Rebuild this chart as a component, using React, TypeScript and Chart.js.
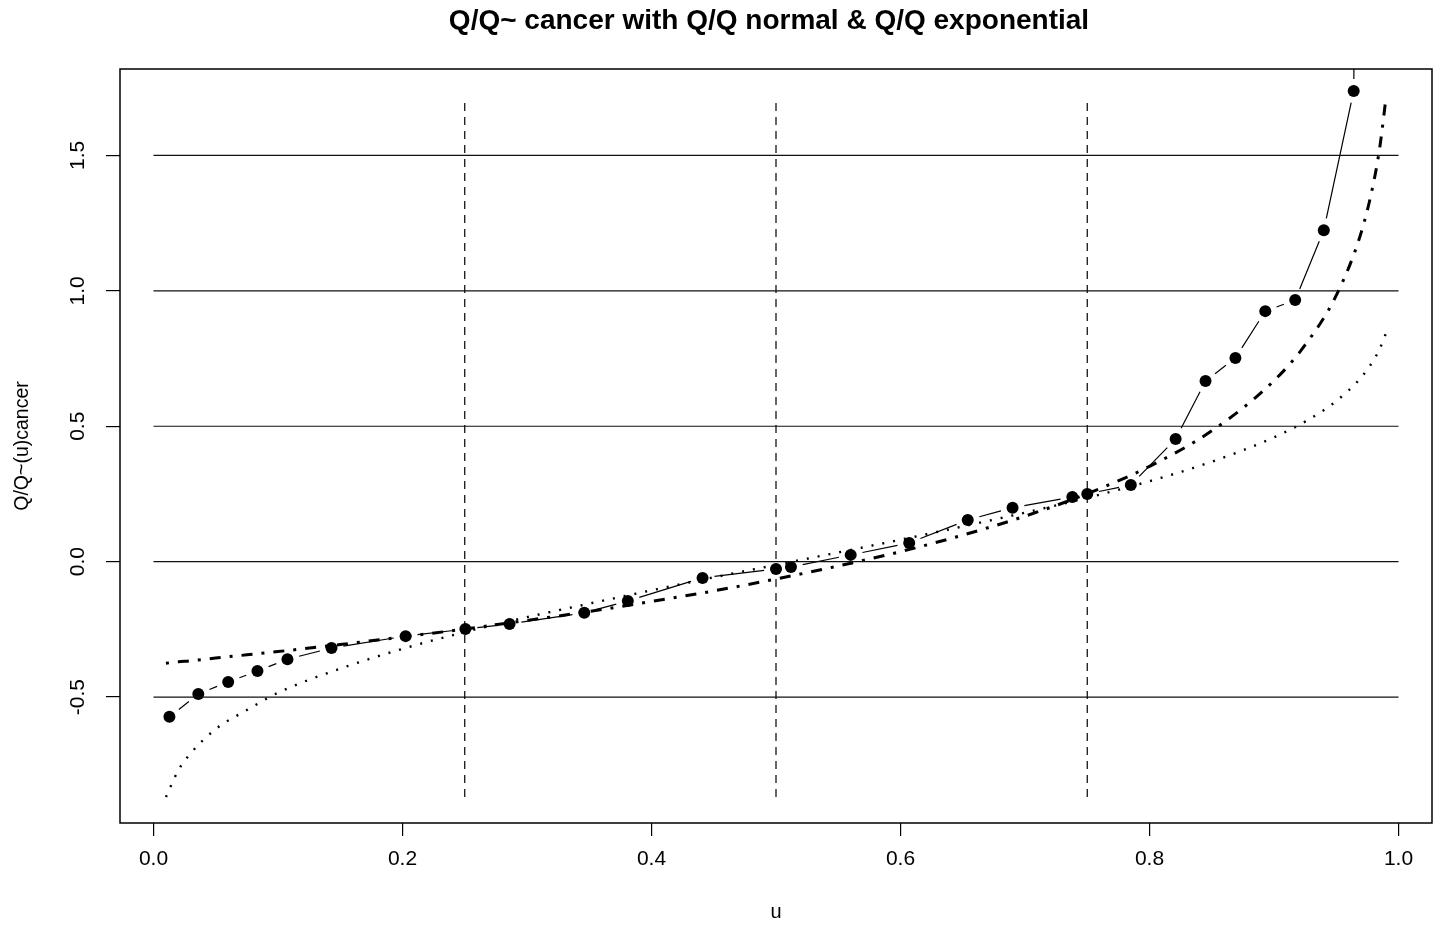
import { useEffect, useRef } from "react";
import { Chart, registerables } from "chart.js";

Chart.register(...registerables);

const TITLE = "Q/Q~ cancer with Q/Q normal & Q/Q exponential";
const X_LABEL = "u";
const Y_LABEL = "Q/Q~(u)cancer";

const X_TICKS = [0, 0.2, 0.4, 0.6, 0.8, 1.0];
const X_TICK_LABELS = ["0.0", "0.2", "0.4", "0.6", "0.8", "1.0"];
const Y_TICKS = [-0.5, 0, 0.5, 1, 1.5];
const Y_TICK_LABELS = ["-0.5", "0.0", "0.5", "1.0", "1.5"];

const X_RANGE = [-0.0269, 1.0269];
const Y_RANGE = [-0.965, 1.819];

const H_LINES = [-0.5, 0, 0.5, 1, 1.5];
const H_LINE_SPAN = [0, 1];
const V_LINES = [0.25, 0.5, 0.75];
const V_LINE_SPAN = [-0.869, 1.716];

// empirical quantiles (points)
const U_EMP = [0.0128, 0.036, 0.06, 0.0835, 0.1076, 0.143, 0.2025, 0.2505, 0.286, 0.346, 0.381, 0.441, 0.5, 0.512, 0.56, 0.607, 0.654, 0.69, 0.738, 0.75, 0.785, 0.821, 0.845, 0.869, 0.893, 0.917, 0.94, 0.964, 0.988];
const Q_CANCER = [-0.573, -0.489, -0.444, -0.404, -0.36, -0.319, -0.275, -0.249, -0.23, -0.189, -0.145, -0.06, -0.027, -0.02, 0.025, 0.069, 0.154, 0.199, 0.239, 0.25, 0.283, 0.453, 0.667, 0.752, 0.925, 0.966, 1.224, 1.738, 12];

// theoretical curves
const U_CURVE = [0.01, 0.02, 0.03, 0.05, 0.075, 0.1, 0.15, 0.2, 0.25, 0.3, 0.35, 0.4, 0.45, 0.5, 0.55, 0.6, 0.65, 0.7, 0.75, 0.8, 0.85, 0.9, 0.925, 0.95, 0.97, 0.98, 0.985, 0.99];
const Q_NORMAL = [-0.869, -0.77, -0.707, -0.618, -0.548, -0.484, -0.395, -0.322, -0.26, -0.205, -0.155, -0.106, -0.058, -0.012, 0.034, 0.081, 0.13, 0.181, 0.236, 0.297, 0.369, 0.459, 0.517, 0.593, 0.68, 0.744, 0.787, 0.844];
const Q_EXPONENTIAL = [-0.375, -0.37, -0.366, -0.356, -0.344, -0.332, -0.306, -0.278, -0.249, -0.217, -0.184, -0.147, -0.108, -0.064, -0.016, 0.037, 0.098, 0.168, 0.251, 0.352, 0.483, 0.668, 0.8, 0.983, 1.215, 1.4, 1.531, 1.715];

const FONT = "'Liberation Sans', Arial, Helvetica, sans-serif";

const POINTS_ID = "points";

const gapLinePlugin = {
  id: "gapLine",
  beforeDatasetsDraw(chart: any) {
    const idx = chart.data.datasets.findIndex((d: any) => d.id === POINTS_ID);
    if (idx < 0) return;
    const meta = chart.getDatasetMeta(idx);
    const a = chart.chartArea;
    const ctx = chart.ctx;
    const gap = 12;
    ctx.save();
    ctx.beginPath();
    ctx.rect(a.left, a.top, a.right - a.left, a.bottom - a.top);
    ctx.clip();
    ctx.strokeStyle = "#000";
    ctx.lineWidth = 1.2;
    ctx.beginPath();
    for (let i = 0; i < meta.data.length - 1; i++) {
      const p0 = meta.data[i];
      const p1 = meta.data[i + 1];
      const dx = p1.x - p0.x;
      const dy = p1.y - p0.y;
      const d = Math.hypot(dx, dy);
      if (d <= 2 * gap) continue;
      const ux = dx / d;
      const uy = dy / d;
      ctx.moveTo(p0.x + ux * gap, p0.y + uy * gap);
      ctx.lineTo(p1.x - ux * gap, p1.y - uy * gap);
    }
    ctx.stroke();
    ctx.restore();
  },
};

const textPlugin = {
  id: "rText",
  afterDraw(chart: any) {
    const ctx = chart.ctx;
    const a = chart.chartArea;
    const ys = chart.scales.y;
    ctx.save();
    // box
    ctx.strokeStyle = "#000";
    ctx.lineWidth = 1.5;
    ctx.strokeRect(a.left, a.top, a.right - a.left, a.bottom - a.top);
    ctx.fillStyle = "#000";
    // title
    ctx.font = `bold 28px ${FONT}`;
    ctx.textAlign = "center";
    ctx.textBaseline = "middle";
    ctx.fillText(TITLE, 769, 21);
    // x label
    ctx.font = `20px ${FONT}`;
    ctx.fillText(X_LABEL, (a.left + a.right) / 2, 912);
    // y tick labels
    ctx.font = `21px ${FONT}`;
    Y_TICKS.forEach((v, i) => {
      const py = ys.getPixelForValue(v);
      ctx.save();
      ctx.translate(78, py);
      ctx.rotate(-Math.PI / 2);
      ctx.fillText(Y_TICK_LABELS[i], 0, 0);
      ctx.restore();
    });
    // y label
    ctx.font = `19.5px ${FONT}`;
    ctx.save();
    ctx.translate(23, (a.top + a.bottom) / 2);
    ctx.rotate(-Math.PI / 2);
    ctx.fillText(Y_LABEL, 0, 0);
    ctx.restore();
    ctx.restore();
  },
};

export default function App() {
  const ref = useRef<HTMLCanvasElement | null>(null);

  useEffect(() => {
    if (!ref.current) return;
    const datasets: any[] = [];
    H_LINES.forEach((v) => {
      datasets.push({
        data: [
          { x: H_LINE_SPAN[0], y: v },
          { x: H_LINE_SPAN[1], y: v },
        ],
        showLine: true,
        borderColor: "#111",
        borderWidth: 1.2,
        pointRadius: 0,
        clip: 0,
      });
    });
    V_LINES.forEach((u) => {
      datasets.push({
        data: [
          { x: u, y: V_LINE_SPAN[0] },
          { x: u, y: V_LINE_SPAN[1] },
        ],
        showLine: true,
        borderColor: "#000",
        borderWidth: 1.2,
        borderDash: [8, 6],
        pointRadius: 0,
        clip: 0,
      });
    });
    datasets.push({
      data: U_CURVE.map((u, i) => ({ x: u, y: Q_NORMAL[i] })),
      showLine: true,
      borderColor: "#000",
      borderWidth: 2.4,
      borderDash: [2, 9],
      cubicInterpolationMode: "monotone",
      pointRadius: 0,
      clip: 0,
    });
    datasets.push({
      data: U_CURVE.map((u, i) => ({ x: u, y: Q_EXPONENTIAL[i] })),
      showLine: true,
      borderColor: "#000",
      borderWidth: 3,
      borderDash: [3, 9, 11, 9],
      cubicInterpolationMode: "monotone",
      pointRadius: 0,
      clip: 0,
    });
    datasets.push({
      id: POINTS_ID,
      data: U_EMP.map((u, i) => ({ x: u, y: Q_CANCER[i] })),
      showLine: false,
      pointRadius: 6,
      pointBackgroundColor: "#000",
      pointBorderWidth: 0,
      borderColor: "#000",
      clip: 0,
    });

    const chart = new Chart(ref.current, {
      type: "scatter",
      data: { datasets },
      options: {
        animation: false,
        responsive: false,
        devicePixelRatio: 1,
        events: [],
        layout: { padding: { top: 69, right: 14, left: 0, bottom: 0 } },
        plugins: {
          legend: { display: false },
          title: { display: false },
          tooltip: { enabled: false },
        },
        scales: {
          x: {
            type: "linear",
            min: X_RANGE[0],
            max: X_RANGE[1],
            afterBuildTicks: (s: any) => {
              s.ticks = X_TICKS.map((v) => ({ value: v }));
            },
            afterFit: (s: any) => {
              s.height = 103;
            },
            border: { display: false },
            grid: {
              drawOnChartArea: false,
              drawTicks: true,
              tickLength: 13,
              color: "#000",
              lineWidth: 1.2,
            },
            ticks: {
              autoSkip: false,
              maxRotation: 0,
              minRotation: 0,
              padding: 11,
              color: "#000",
              font: { family: FONT, size: 21 },
              callback: (_v: any, i: number) => X_TICK_LABELS[i],
            },
          },
          y: {
            type: "linear",
            min: Y_RANGE[0],
            max: Y_RANGE[1],
            afterBuildTicks: (s: any) => {
              s.ticks = Y_TICKS.map((v) => ({ value: v }));
            },
            afterFit: (s: any) => {
              s.width = 120;
            },
            border: { display: false },
            grid: {
              drawOnChartArea: false,
              drawTicks: true,
              tickLength: 14,
              color: "#000",
              lineWidth: 1.2,
            },
            ticks: { display: false },
          },
        },
      },
      plugins: [gapLinePlugin, textPlugin],
    });
    return () => chart.destroy();
  }, []);

  return (
    <canvas
      ref={ref}
      width={1446}
      height={926}
      style={{ position: "absolute", left: 0, top: 0, width: 1446, height: 926, background: "#fff" }}
    />
  );
}
